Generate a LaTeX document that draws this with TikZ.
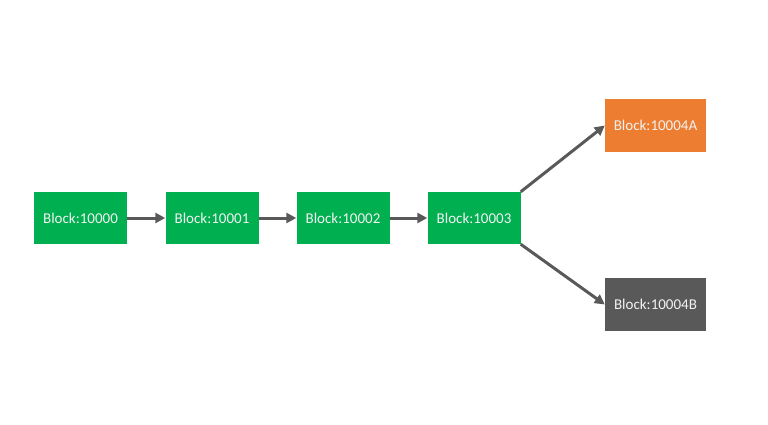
\documentclass[tikz,border=0pt]{standalone}
\usepackage{fontspec}
\setmainfont{Carlito}
\usetikzlibrary{arrows.meta}
\definecolor{bgreen}{HTML}{00B050}
\definecolor{borange}{HTML}{ED7D31}
\definecolor{bgray}{HTML}{595959}
\definecolor{agray}{HTML}{595959}
\tikzset{
  blk/.style={draw=none, text=white!95!black, minimum width=93pt, minimum height=52pt, inner sep=0pt, font=\fontsize{15}{17}\selectfont},
  blkg/.style={blk, fill=bgreen},
  blkwide/.style={blk, minimum width=101pt, minimum height=53pt},
  conn/.style={draw=agray, line width=3pt, -{Triangle[length=10pt,width=10pt]}, shorten >=0pt}
}
\begin{document}
\begin{tikzpicture}[x=1pt,y=-1pt]
\useasboundingbox (0,0) rectangle (768,425);
\node[blkg] (b0) at (80.5,218) {Block:10000};
\node[blkg] (b1) at (212,218) {Block:10001};
\node[blkg] (b2) at (343,218) {Block:10002};
\node[blkg] (b3) at (474,218) {Block:10003};
\node[blkwide, fill=borange] (ba) at (655.5,125.5) {Block:10004A};
\node[blkwide, fill=bgray] (bb) at (655.5,304.5) {Block:10004B};
\draw[conn] (b0.east) -- (b1.west);
\draw[conn] (b1.east) -- (b2.west);
\draw[conn] (b2.east) -- (b3.west);
\draw[conn] (b3.north east) -- (ba.west);
\draw[conn] (b3.south east) -- (bb.west);
\end{tikzpicture}
\end{document}
